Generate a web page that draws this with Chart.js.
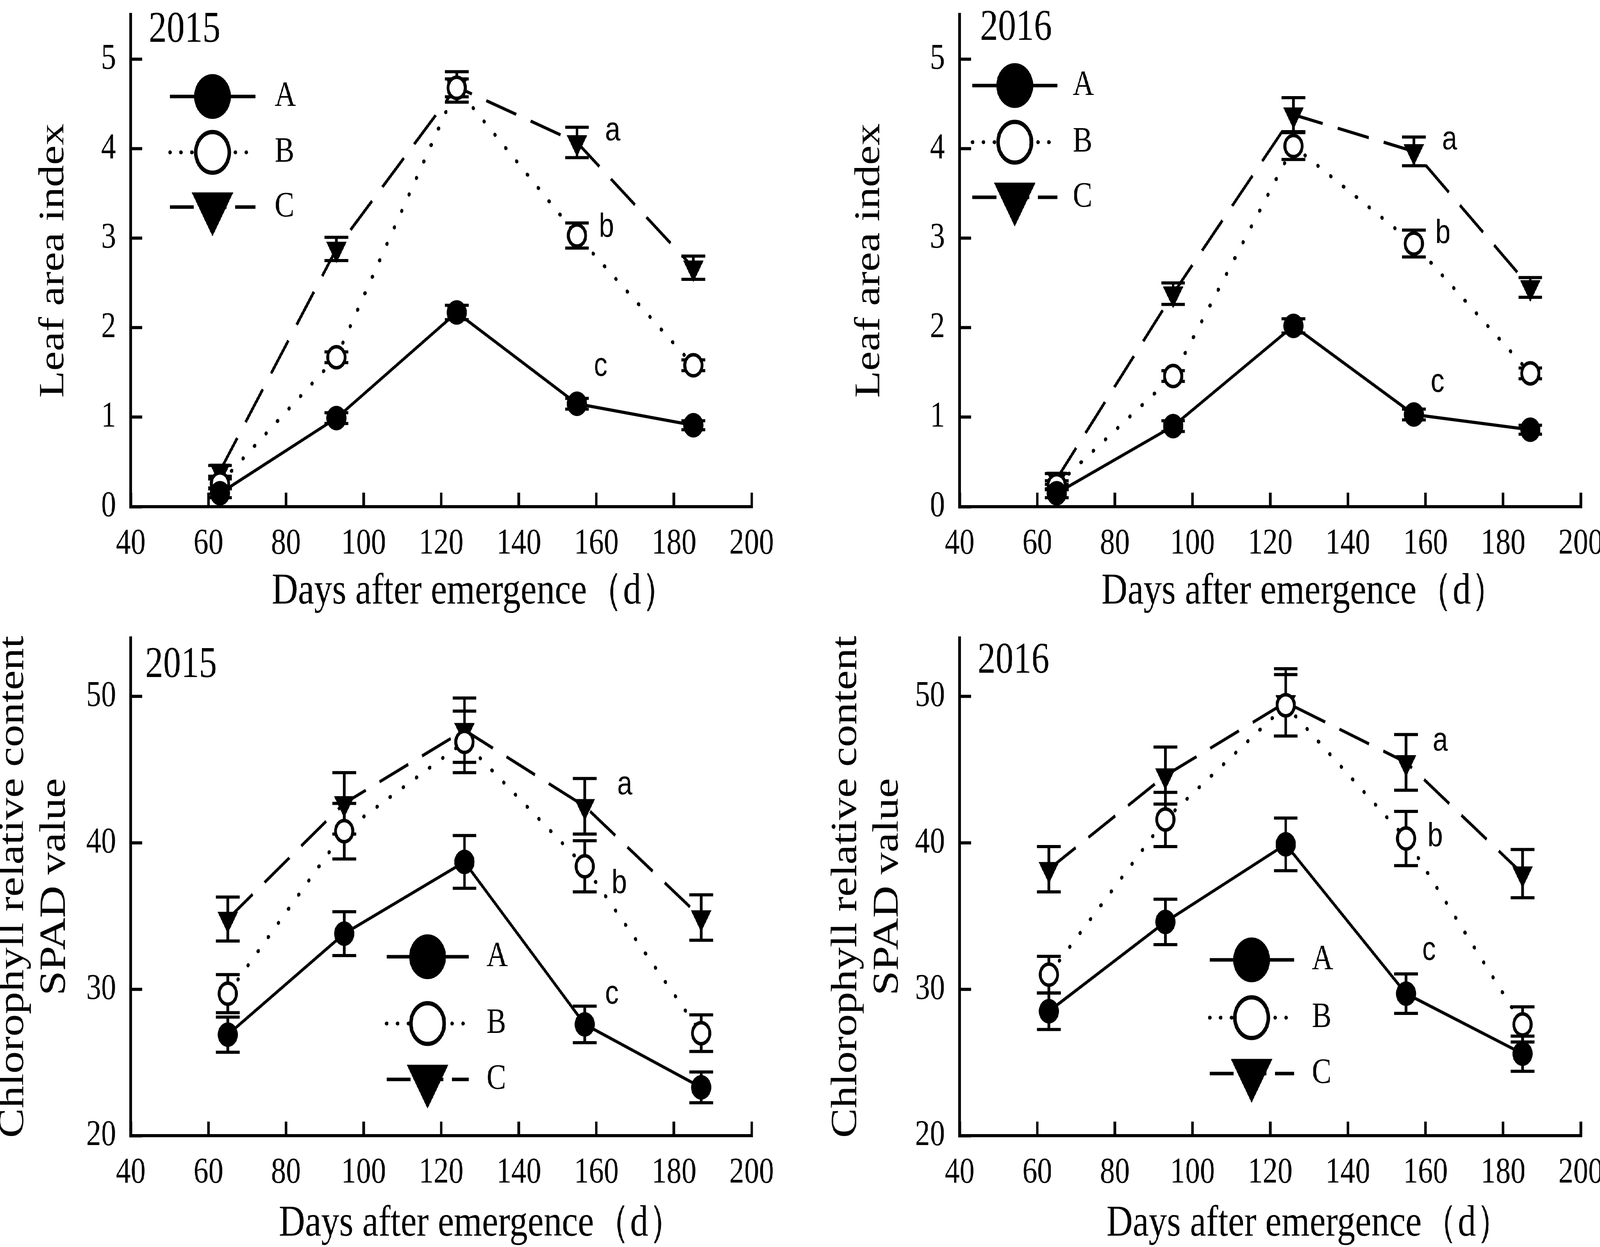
<!DOCTYPE html>
<html>
<head>
<meta charset="utf-8">
<title>Leaf area index and SPAD value</title>
<script src="https://cdn.jsdelivr.net/npm/chart.js@4.4.1/dist/chart.umd.min.js"></script>
<style>
  html, body { margin: 0; padding: 0; background: #ffffff; overflow: hidden; }
  #wrap { position: absolute; left: 0; top: 0; width: 4992px; height: 3192px; background: #ffffff; overflow: hidden; transform-origin: 0 0; }
  #wrap canvas { position: absolute; }
</style>
</head>
<body>
<div id="wrap">
  <canvas id="p1" width="2496" height="1596" style="left:0px;top:0px;width:2496px;height:1596px"></canvas>
  <canvas id="p2" width="2496" height="1596" style="left:2496px;top:0px;width:2496px;height:1596px"></canvas>
  <canvas id="p3" width="2496" height="1596" style="left:0px;top:1596px;width:2496px;height:1596px"></canvas>
  <canvas id="p4" width="2496" height="1596" style="left:2496px;top:1596px;width:2496px;height:1596px"></canvas>
</div>
<script>
// ---------------- DATA ----------------
const seriesNames = ['A', 'B', 'C'];
const sigLetters = ['a', 'b', 'c'];

const xTickValues = [40, 60, 80, 100, 120, 140, 160, 180, 200];
const laiTickValues = [0, 1, 2, 3, 4, 5];
const spadTickValues = [20, 30, 40, 50];

// Leaf area index 2015
const laiDays2015 = [63, 93, 124, 155, 185];
const lai2015A = [0.15, 0.99, 2.17, 1.15, 0.91];
const lai2015B = [0.26, 1.67, 4.68, 3.03, 1.58];
const lai2015C = [0.40, 2.88, 4.69, 4.07, 2.67];
const lai2015AErr = [0.05, 0.06, 0.08, 0.06, 0.05];
const lai2015BErr = [0.05, 0.06, 0.10, 0.14, 0.06];
const lai2015CErr = [0.06, 0.13, 0.17, 0.17, 0.13];
const lai2015LetterDays = [164.2, 162.6, 161.1];
const lai2015LetterValues = [4.19, 3.15, 1.56];

// Leaf area index 2016
const laiDays2016 = [65, 95, 126, 157, 187];
const lai2016A = [0.15, 0.90, 2.02, 1.03, 0.86];
const lai2016B = [0.24, 1.46, 4.03, 2.94, 1.49];
const lai2016C = [0.31, 2.38, 4.38, 3.97, 2.45];
const lai2016AErr = [0.05, 0.06, 0.08, 0.06, 0.05];
const lai2016BErr = [0.05, 0.06, 0.15, 0.15, 0.06];
const lai2016CErr = [0.06, 0.12, 0.19, 0.16, 0.11];
const lai2016LetterDays = [166.2, 164.5, 163.1];
const lai2016LetterValues = [4.09, 3.08, 1.38];

// SPAD 2015
const spadDays2015 = [65, 95, 126, 157, 187];
const spad2015A = [26.9, 33.8, 38.7, 27.6, 23.3];
const spad2015B = [29.7, 40.8, 46.9, 38.4, 27.0];
const spad2015C = [34.8, 42.7, 47.7, 42.5, 34.9];
const spad2015AErr = [1.2, 1.5, 1.8, 1.25, 1.05];
const spad2015BErr = [1.3, 1.9, 2.1, 1.75, 1.25];
const spad2015CErr = [1.5, 2.1, 2.2, 1.9, 1.55];
const spad2015LetterDays = [167.3, 165.9, 164.0];
const spad2015LetterValues = [43.9, 37.4, 29.6];

// SPAD 2016
const spadDays2016 = [63, 93, 124, 155, 185];
const spad2016A = [28.5, 34.6, 39.9, 29.7, 25.6];
const spad2016B = [31.0, 41.6, 49.4, 40.3, 27.6];
const spad2016C = [38.2, 44.6, 49.6, 45.5, 37.9];
const spad2016AErr = [1.25, 1.55, 1.8, 1.35, 1.2];
const spad2016BErr = [1.25, 1.85, 2.1, 1.85, 1.2];
const spad2016CErr = [1.55, 1.95, 2.3, 1.9, 1.65];
const spad2016LetterDays = [163.8, 162.5, 160.9];
const spad2016LetterValues = [46.9, 40.6, 32.6];

// ---------------- PAGE FIT ----------------
const PAGE_W = 4992, PAGE_H = 3192;
const fitX = (window.innerWidth / PAGE_W) || 1;
const fitY = (window.innerHeight / PAGE_H) || 1;
document.getElementById('wrap').style.transform = 'scale(' + fitX + ',' + fitY + ')';
const renderRatio = Math.max(fitX, fitY) * (window.devicePixelRatio || 1);

// ---------------- STYLE ----------------
const SERIF = "'Liberation Serif', 'Times New Roman', Times, serif";
const SANS = "'Liberation Sans', Arial, Helvetica, sans-serif";
Chart.defaults.font.family = SERIF;
Chart.defaults.color = '#000';

const seriesStyle = [
  { pointStyle: 'circle', rotation: 0, radius: 31, bg: '#000', bw: 1,
    lineWidth: 8, dash: [], cap: 'butt',
    legRadius: 57, legBw: 1, legLineWidth: 9, legDash: [], legCap: 'butt' },
  { pointStyle: 'circle', rotation: 0, radius: 27, bg: '#fff', bw: 9,
    lineWidth: 10, dash: [1, 47], cap: 'round',
    legRadius: 52, legBw: 11, legLineWidth: 10, legDash: [1, 33], legCap: 'round' },
  { pointStyle: 'triangle', rotation: 180, radius: 36, bg: '#000', bw: 1,
    lineWidth: 8, dash: [100, 48], cap: 'butt',
    legRadius: 74, legBw: 1, legLineWidth: 9, legDash: [75, 27], legCap: 'butt' }
];

// ---------------- PLUGINS ----------------
const errorBarPlugin = {
  id: 'errorBars',
  beforeDatasetsDraw(chart) {
    const ctx = chart.ctx, ys = chart.scales.y;
    ctx.save();
    ctx.strokeStyle = '#000';
    ctx.lineWidth = 8;
    ctx.lineCap = 'butt';
    chart.data.datasets.forEach((ds, i) => {
      if (!ds.errors) return;
      const meta = chart.getDatasetMeta(i);
      meta.data.forEach((pt, j) => {
        const v = ds.data[j].y, e = ds.errors[j];
        const yt = ys.getPixelForValue(v + e), yb = ys.getPixelForValue(v - e);
        const x = pt.x, hw = 37;
        ctx.beginPath();
        ctx.moveTo(x, yt); ctx.lineTo(x, yb);
        ctx.moveTo(x - hw, yt); ctx.lineTo(x + hw, yt);
        ctx.moveTo(x - hw, yb); ctx.lineTo(x + hw, yb);
        ctx.stroke();
      });
    });
    ctx.restore();
  }
};

const panelDecor = {
  id: 'panelDecor',
  afterDraw(chart, args, o) {
    const ctx = chart.ctx, xs = chart.scales.x, ys = chart.scales.y, ca = chart.chartArea;
    ctx.save();
    ctx.fillStyle = '#000';
    // year label
    ctx.font = '112px ' + SERIF;
    ctx.textAlign = 'left';
    ctx.textBaseline = 'alphabetic';
    ctx.fillText(o.year, ca.left + o.yearDx, o.yearBaseline);
    // x axis title
    ctx.font = '113px ' + SERIF;
    ctx.textAlign = 'center';
    ctx.fillText(o.xTitle, ca.left + o.xTitleDx, ca.bottom + o.xTitleDy);
    // significance letters
    ctx.font = '85px ' + SANS;
    ctx.textAlign = 'center';
    o.letters.forEach((l, i) => {
      const px = xs.getPixelForValue(o.letterDays[i]);
      const py = ys.getPixelForValue(o.letterValues[i]) + (l === 'b' ? 31 : 22);
      ctx.fillText(l, px, py);
    });
    // legend
    const L = o.legend;
    chart.data.datasets.forEach((ds, i) => {
      const st = seriesStyle[i];
      const y = L.rows[i];
      ctx.save();
      ctx.strokeStyle = '#000';
      ctx.lineWidth = st.legLineWidth;
      ctx.lineCap = st.legCap;
      ctx.setLineDash(st.legDash);
      ctx.beginPath();
      ctx.moveTo(L.x1, y);
      ctx.lineTo(L.x2, y);
      ctx.stroke();
      ctx.setLineDash([]);
      ctx.fillStyle = st.bg;
      ctx.strokeStyle = '#000';
      ctx.lineWidth = st.legBw;
      Chart.helpers.drawPoint(ctx, { pointStyle: st.pointStyle, rotation: st.rotation, radius: st.legRadius, borderWidth: st.legBw }, L.mx, y);
      ctx.restore();
      ctx.fillStyle = '#000';
      ctx.font = '92px ' + SERIF;
      ctx.textAlign = 'left';
      ctx.textBaseline = 'middle';
      ctx.fillText(ds.label, L.tx, y);
      ctx.textBaseline = 'alphabetic';
    });
    ctx.restore();
  }
};

// ---------------- BUILDERS ----------------
function makeDatasets(days, values, errors) {
  return values.map((vals, i) => {
    const st = seriesStyle[i];
    return {
      label: seriesNames[i],
      data: days.map((d, j) => ({ x: d, y: vals[j] })),
      errors: errors[i],
      borderColor: '#000',
      borderWidth: st.lineWidth,
      borderDash: st.dash,
      borderCapStyle: st.cap,
      tension: 0,
      fill: false,
      pointStyle: st.pointStyle,
      pointRotation: st.rotation,
      pointRadius: st.radius,
      pointHoverRadius: st.radius,
      pointBackgroundColor: st.bg,
      pointBorderColor: '#000',
      pointBorderWidth: st.bw,
      clip: false
    };
  });
}

function makeChart(id, cfg) {
  const tickFont = { size: 93, family: SERIF };
  return new Chart(document.getElementById(id), {
    type: 'line',
    data: { datasets: makeDatasets(cfg.days, cfg.values, cfg.errors) },
    options: {
      responsive: false,
      animation: false,
      devicePixelRatio: renderRatio,
      events: [],
      layout: { padding: { top: cfg.padTop, right: cfg.padRight, left: 0, bottom: 0 } },
      plugins: {
        legend: { display: false },
        tooltip: { enabled: false },
        title: { display: false },
        panelDecor: {
          year: cfg.year, yearDx: cfg.yearDx, yearBaseline: cfg.yearBaseline,
          xTitle: 'Days after emergence\uFF08d\uFF09', xTitleDx: cfg.xTitleDx, xTitleDy: cfg.xTitleDy,
          letters: sigLetters, letterDays: cfg.letterDays, letterValues: cfg.letterValues,
          legend: cfg.legend
        }
      },
      scales: {
        x: {
          type: 'linear',
          min: 40, max: 200,
          afterBuildTicks: s => { s.ticks = xTickValues.map(v => ({ value: v })); },
          afterFit: s => { s.height = cfg.xAxisH; s.paddingLeft = 0; s.paddingRight = 0; },
          ticks: { font: tickFont, color: '#000', padding: 76, maxRotation: 0, minRotation: 0, autoSkip: false, callback: v => String(v) },
          grid: { drawOnChartArea: false, drawTicks: true, tickLength: -36, tickWidth: 8, tickColor: '#000', color: '#000' },
          border: { display: true, color: '#000', width: 8 }
        },
        y: {
          type: 'linear',
          min: cfg.yMin, max: cfg.yMax,
          afterBuildTicks: s => { s.ticks = cfg.yTicks.map(v => ({ value: v })); },
          afterFit: s => { s.width = cfg.yAxisW; s.paddingTop = 0; s.paddingBottom = 0; },
          ticks: { font: tickFont, color: '#000', padding: 82, autoSkip: false, callback: v => String(v) },
          grid: { drawOnChartArea: false, drawTicks: true, tickLength: -36, tickWidth: 8, tickColor: '#000', color: '#000' },
          border: { display: true, color: '#000', width: 8 },
          title: {
            display: true,
            text: cfg.yTitle,
            color: '#000',
            font: { size: cfg.yTitleSize, family: SERIF, lineHeight: cfg.yTitleLH },
            padding: { top: cfg.yTitlePad, bottom: 0 }
          }
        }
      }
    },
    plugins: [errorBarPlugin, panelDecor]
  });
}

// ---------------- PANELS ----------------
makeChart('p1', {
  days: laiDays2015,
  values: [lai2015A, lai2015B, lai2015C],
  errors: [lai2015AErr, lai2015BErr, lai2015CErr],
  padTop: 10, padRight: 151, xAxisH: 299, yAxisW: 408,
  yMin: 0, yMax: 5.5, yTicks: laiTickValues,
  yTitle: 'Leaf area index', yTitleSize: 113, yTitleLH: 1.2, yTitlePad: 101,
  year: '2015', yearDx: 56, yearBaseline: 107,
  xTitleDx: 1073, xTitleDy: 248,
  letterDays: lai2015LetterDays, letterValues: lai2015LetterValues,
  legend: { x1: 530, x2: 797, mx: 663, tx: 857, rows: [247, 390, 530] }
});

makeChart('p2', {
  days: laiDays2016,
  values: [lai2016A, lai2016B, lai2016C],
  errors: [lai2016AErr, lai2016BErr, lai2016CErr],
  padTop: 10, padRight: 60, xAxisH: 299, yAxisW: 498,
  yMin: 0, yMax: 5.5, yTicks: laiTickValues,
  yTitle: 'Leaf area index', yTitleSize: 113, yTitleLH: 1.2, yTitlePad: 150,
  year: '2016', yearDx: 64, yearBaseline: 102,
  xTitleDx: 1075, xTitleDy: 248,
  letterDays: lai2016LetterDays, letterValues: lai2016LetterValues,
  legend: { x1: 538, x2: 803, mx: 670, tx: 851, rows: [219, 364, 505] }
});

makeChart('p3', {
  days: spadDays2015,
  values: [spad2015A, spad2015B, spad2015C],
  errors: [spad2015AErr, spad2015BErr, spad2015CErr],
  padTop: 22, padRight: 151, xAxisH: 285, yAxisW: 408,
  yMin: 20, yMax: 54, yTicks: spadTickValues,
  yTitle: ['Chlorophyll relative content', 'SPAD value'], yTitleSize: 114, yTitleLH: 1.14, yTitlePad: -23,
  year: '2015', yearDx: 45, yearBaseline: 137,
  xTitleDx: 1095, xTitleDy: 256,
  letterDays: spad2015LetterDays, letterValues: spad2015LetterValues,
  legend: { x1: 1206, x2: 1462, mx: 1334, tx: 1518, rows: [853, 1024, 1167] }
});

makeChart('p4', {
  days: spadDays2016,
  values: [spad2016A, spad2016B, spad2016C],
  errors: [spad2016AErr, spad2016BErr, spad2016CErr],
  padTop: 22, padRight: 60, xAxisH: 285, yAxisW: 498,
  yMin: 20, yMax: 54, yTicks: spadTickValues,
  yTitle: ['Chlorophyll relative content', 'SPAD value'], yTitleSize: 114, yTitleLH: 1.14, yTitlePad: 80,
  year: '2016', yearDx: 56, yearBaseline: 126,
  xTitleDx: 1091, xTitleDy: 256,
  letterDays: spad2016LetterDays, letterValues: spad2016LetterValues,
  legend: { x1: 1278, x2: 1542, mx: 1409, tx: 1597, rows: [861, 1009, 1152] }
});
</script>
</body>
</html>
